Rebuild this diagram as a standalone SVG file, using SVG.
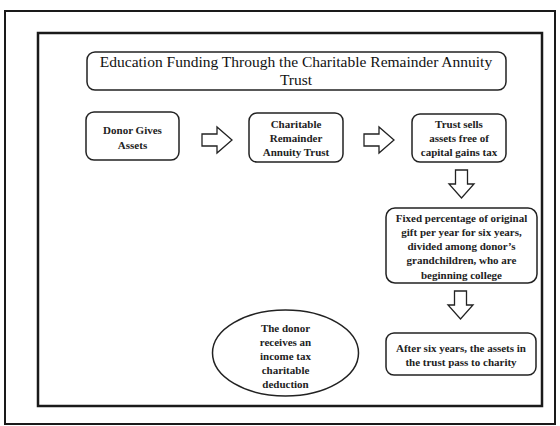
<svg xmlns="http://www.w3.org/2000/svg" width="560" height="426" viewBox="0 0 560 426">
<style>
.frame{fill:none;stroke:#1a1a1a}
.box{fill:#fff;stroke:#222;stroke-width:1.5}
.arr{fill:#fff;stroke:#222;stroke-width:1.3;stroke-linejoin:miter}
.t{font-family:"Liberation Serif","Times New Roman",serif;font-size:11px;font-weight:bold;fill:#222;text-anchor:middle}
.title{font-family:"Liberation Serif","Times New Roman",serif;font-size:15.5px;fill:#111;text-anchor:middle}
</style>
<rect width="560" height="426" fill="#fff"/>
<rect class="frame" x="5" y="11" width="550" height="413" stroke-width="2"/>
<rect class="frame" x="38" y="33" width="504" height="373" stroke-width="2.5"/>
<g id="title">
<rect class="box" x="87" y="52" width="419" height="38" rx="8"/>
<text class="title" x="296" y="67">Education Funding Through the Charitable Remainder Annuity</text>
<text class="title" x="296" y="85">Trust</text>
</g>
<g id="donor">
<rect class="box" x="86" y="112" width="93" height="48" rx="8"/>
<text class="t" x="132.5" y="134">Donor Gives</text>
<text class="t" x="132.5" y="149">Assets</text>
</g>
<g id="crat">
<rect class="box" x="249" y="113" width="94" height="49" rx="8"/>
<text class="t" x="296" y="128">Charitable</text>
<text class="t" x="296" y="142">Remainder</text>
<text class="t" x="296" y="156">Annuity Trust</text>
</g>
<g id="sells">
<rect class="box" x="412" y="114" width="94" height="48" rx="8"/>
<text class="t" x="459" y="128">Trust sells</text>
<text class="t" x="459" y="142">assets free of</text>
<text class="t" x="459" y="156">capital gains tax</text>
</g>
<g id="fixed">
<rect class="box" x="386" y="208" width="151" height="75" rx="9"/>
<text class="t" x="461.5" y="222">Fixed percentage of original</text>
<text class="t" x="461.5" y="236">gift per year for six years,</text>
<text class="t" x="461.5" y="250">divided among donor’s</text>
<text class="t" x="461.5" y="264">grandchildren, who are</text>
<text class="t" x="461.5" y="279">beginning college</text>
</g>
<g id="after">
<rect class="box" x="386" y="333" width="150" height="42" rx="8"/>
<text class="t" x="461" y="352">After six years, the assets in</text>
<text class="t" x="461" y="366">the trust pass to charity</text>
</g>
<g id="deduction">
<ellipse class="box" cx="285.5" cy="353" rx="73" ry="43"/>
<text class="t" x="285.5" y="332">The donor</text>
<text class="t" x="285.5" y="346">receives an</text>
<text class="t" x="285.5" y="360">income tax</text>
<text class="t" x="285.5" y="374">charitable</text>
<text class="t" x="285.5" y="388">deduction</text>
</g>
<g id="connectors">
<polygon class="arr" points="202,134 217,134 217,127 232,140 217,153 217,146 202,146"/>
<polygon class="arr" points="364,134 379,134 379,127 394,140 379,153 379,146 364,146"/>
<polygon class="arr" points="455.5,170 467.5,170 467.5,184 474,184 461.5,198 449,184 455.5,184"/>
<polygon class="arr" points="454.5,291 466.5,291 466.5,305 473,305 460.5,319 448,305 454.5,305"/>
</g>
</svg>
